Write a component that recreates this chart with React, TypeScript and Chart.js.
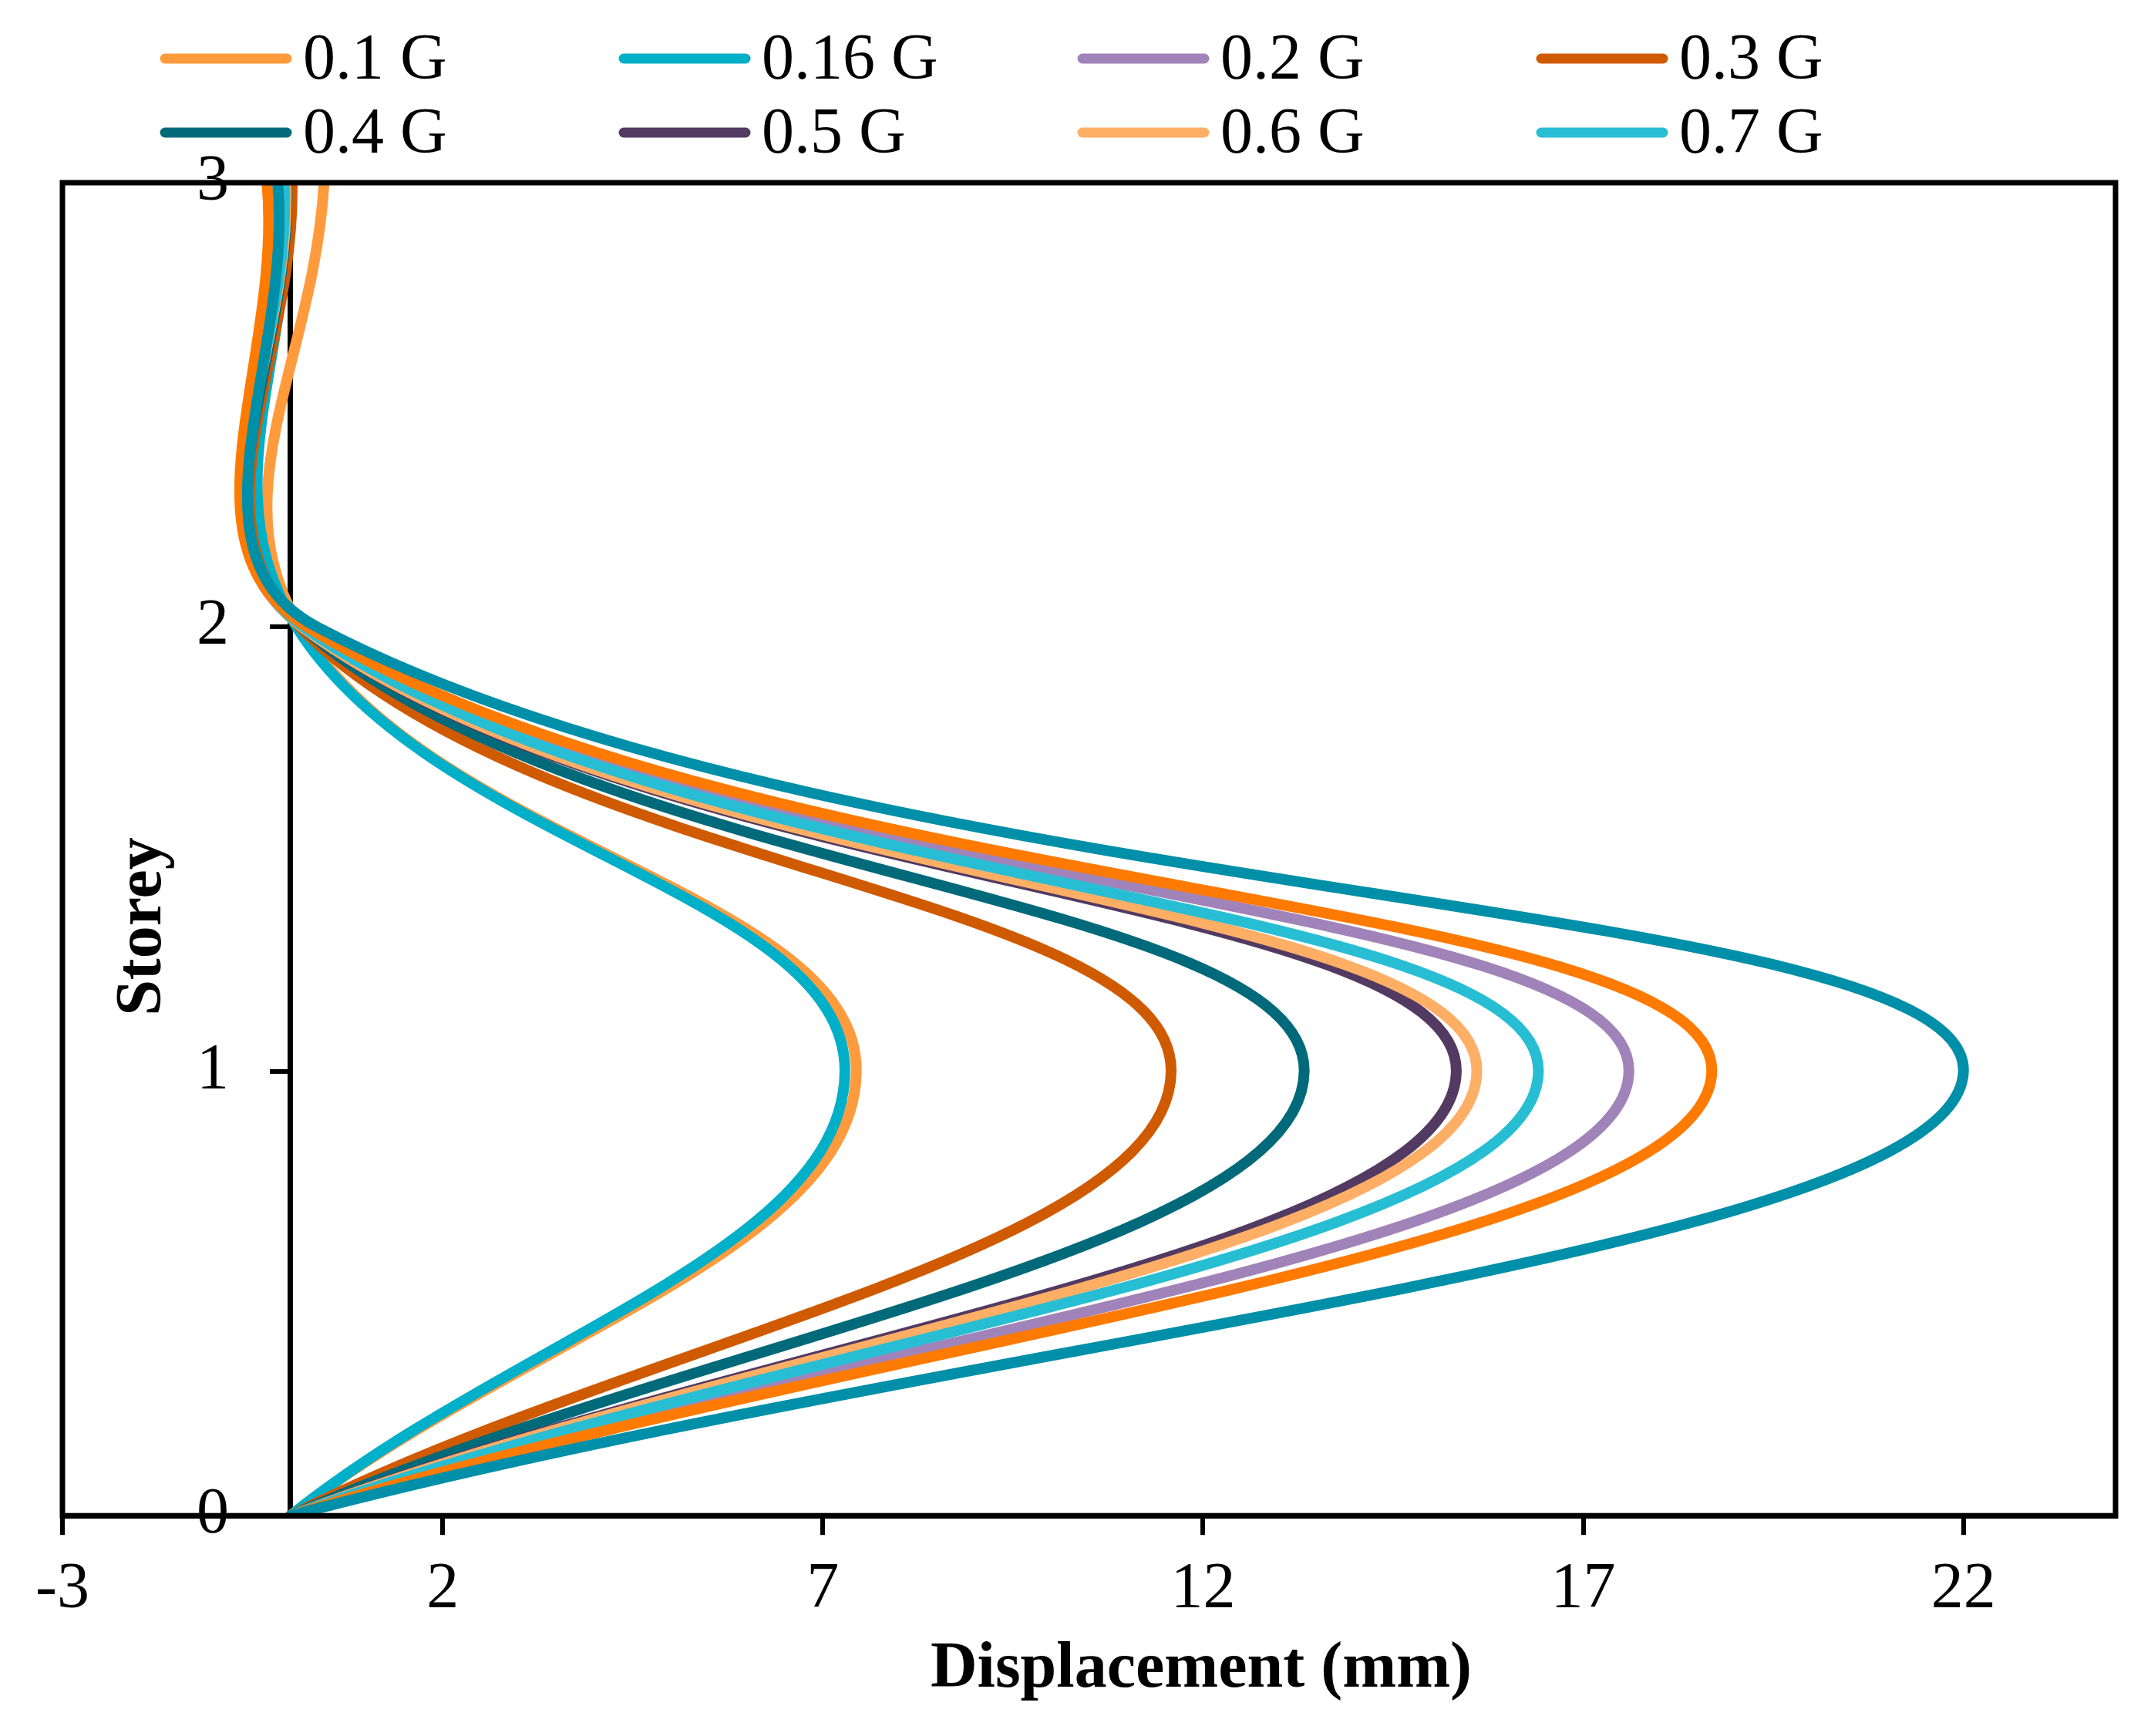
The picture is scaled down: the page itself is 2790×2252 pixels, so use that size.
import { useEffect, useRef } from 'react';
import { Chart, registerables } from 'chart.js';

Chart.register(...registerables);

const STOREYS = [0, 1, 2, 3];
const X_TICKS = [-3, 2, 7, 12, 17, 22];
const Y_TICKS = [0, 1, 2, 3];

const LABELS = ['0.1 G', '0.16 G', '0.2 G', '0.3 G', '0.4 G', '0.5 G', '0.6 G', '0.7 G', '0.8 G', '0.9 G'];
const LEGEND_COUNT = 8; // only the first eight series are listed in the legend

// displacement (mm) at storey 0, 1, 2, 3
const G01 = [0, 7.44, 0.12, 0.44];
const G016 = [0, 7.29, 0.08, -0.02];
const G02 = [0, 17.6, 0.18, -0.07];
const G03 = [0, 11.58, 0.12, 0.02];
const G04 = [0, 13.33, 0.15, -0.05];
const G05 = [0, 15.33, 0.15, -0.06];
const G06 = [0, 15.6, 0.15, -0.06];
const G07 = [0, 16.41, 0.17, -0.08];
const G08 = [0, 18.69, 0.22, -0.31];
const G09 = [0, 22.0, 0.35, -0.17];

const SERIES = [G01, G016, G02, G03, G04, G05, G06, G07, G08, G09];

const COLORS = [
  '#FF9B3D', // 0.1 G
  '#00AFC8', // 0.16 G
  '#A083B8', // 0.2 G
  '#D05A00', // 0.3 G
  '#006A7A', // 0.4 G
  '#523A62', // 0.5 G
  '#FFAE66', // 0.6 G
  '#27BED4', // 0.7 G
  '#FF7A00',
  '#008FA8',
];

const FONT = "'Liberation Serif', 'Times New Roman', serif";

const framePlugin = {
  id: 'frame',
  afterDatasetsDraw(chart: Chart) {
    const { ctx, chartArea: a } = chart;
    ctx.save();
    ctx.strokeStyle = '#000';
    ctx.lineWidth = 7;
    ctx.strokeRect(a.left, a.top, a.right - a.left, a.bottom - a.top);
    ctx.restore();
  },
};

const textPlugin = {
  id: 'texts',
  afterDraw(chart: Chart) {
    const { ctx } = chart;
    const xs = chart.scales.x;
    const ys = chart.scales.y;
    ctx.save();
    ctx.fillStyle = '#000';

    // storey labels, left of the axis at x = 0
    ctx.font = `84px ${FONT}`;
    ctx.textAlign = 'right';
    ctx.textBaseline = 'middle';
    const axisX = xs.getPixelForValue(0);
    Y_TICKS.forEach((v) => {
      ctx.fillText(String(v), axisX - 80, ys.getPixelForValue(v));
    });

    // legend: 4 columns x 2 rows
    ctx.textAlign = 'left';
    ctx.textBaseline = 'alphabetic';
    for (let i = 0; i < LEGEND_COUNT; i++) {
      const col = i % 4;
      const row = Math.floor(i / 4);
      const x0 = 207 + col * 595;
      const y = 76 + row * 96;
      ctx.strokeStyle = COLORS[i];
      ctx.lineWidth = 13;
      ctx.lineCap = 'round';
      ctx.beginPath();
      ctx.moveTo(x0 + 7, y);
      ctx.lineTo(x0 + 165, y);
      ctx.stroke();
      ctx.fillText(LABELS[i], x0 + 186, y + 26);
    }

    // axis titles
    ctx.font = `bold 84px ${FONT}`;
    ctx.textAlign = 'center';
    ctx.fillText('Displacement (mm)', 1558, 2188);

    ctx.translate(208, 1202);
    ctx.rotate(-Math.PI / 2);
    ctx.fillText('Storey', 0, 0);
    ctx.restore();
  },
};

export default function App(): React.JSX.Element {
  const canvasRef = useRef<HTMLCanvasElement>(null);

  useEffect(() => {
    if (!canvasRef.current) return;
    Chart.defaults.font.family = FONT;

    const chart = new Chart(canvasRef.current, {
      type: 'scatter',
      data: {
        datasets: SERIES.map((vals, i) => ({
          label: LABELS[i],
          data: vals.map((x, j) => ({ x, y: STOREYS[j] })),
          showLine: true,
          borderColor: COLORS[i],
          backgroundColor: COLORS[i],
          borderWidth: 14,
          borderCapStyle: 'round' as const,
          pointRadius: 0,
          pointHoverRadius: 0,
          tension: 0.4,
          order: SERIES.length - i,
        })),
      },
      options: {
        animation: false,
        responsive: true,
        maintainAspectRatio: false,
        devicePixelRatio: 1,
        layout: { padding: { top: 237, left: 81, right: 46, bottom: 118 } },
        plugins: {
          legend: { display: false },
          tooltip: { enabled: false },
        },
        scales: {
          x: {
            type: 'linear',
            min: -3,
            max: 24,
            afterBuildTicks: (scale) => {
              scale.ticks = X_TICKS.map((value) => ({ value }));
            },
            ticks: {
              color: '#000',
              font: { size: 84 },
              padding: 21,
              maxRotation: 0,
              callback: (v) => String(v),
            },
            grid: {
              drawOnChartArea: false,
              drawTicks: true,
              tickLength: 25,
              color: '#000',
              lineWidth: 6,
            },
            border: { display: true, color: '#000', width: 7 },
          },
          y: {
            type: 'linear',
            position: { x: 0 },
            min: 0,
            max: 3,
            afterBuildTicks: (scale) => {
              scale.ticks = Y_TICKS.map((value) => ({ value }));
            },
            ticks: { display: false },
            grid: {
              drawOnChartArea: false,
              drawTicks: true,
              tickLength: 23,
              color: '#000',
              lineWidth: 6,
            },
            border: { display: true, color: '#000', width: 7 },
          },
        },
      },
      plugins: [framePlugin, textPlugin],
    });

    return () => {
      chart.destroy();
    };
  }, []);

  return (
    <div style={{ position: 'absolute', left: 0, top: 0, width: 2790, height: 2252, background: '#fff' }}>
      <canvas ref={canvasRef} />
    </div>
  );
}
